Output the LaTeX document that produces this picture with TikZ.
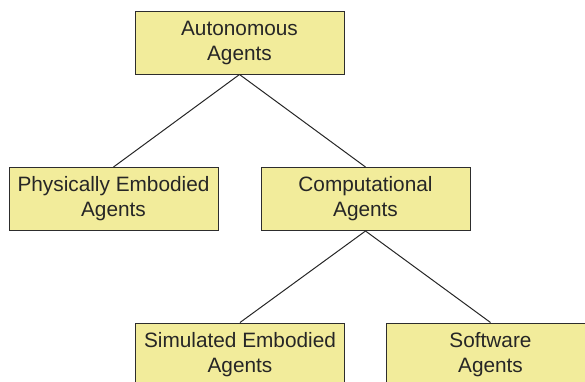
\documentclass[tikz,border=0pt]{standalone}
\usepackage{fontspec}
\setmainfont{Liberation Sans}
\definecolor{boxfill}{RGB}{242,236,155}
\definecolor{boxline}{RGB}{45,45,45}
\tikzset{
  agentbox/.style={draw=boxline, fill=boxfill, line width=1pt, minimum width=209pt, minimum height=63pt,
    align=center, text=black!85, font=\fontsize{20.8}{25}\selectfont, inner sep=0pt},
  link/.style={draw=black!85, line width=1pt}
}
\begin{document}
\begin{tikzpicture}[x=1pt,y=-1pt]
        \useasboundingbox (0,0) rectangle (585,381);
        % boxes
        \node[agentbox] (auto) at (239.5,42.5) {Autonomous\\Agents};
        \node[agentbox] (phys) at (113.5,199) {Physically Embodied\\Agents};
        \node[agentbox] (comp) at (365.5,199) {Computational\\Agents};
        \node[agentbox] (sim) at (240,354.5) {Simulated Embodied\\Agents};
        \node[agentbox] (soft) at (490.5,354.5) {Software\\Agents};
        % links
        \draw[link] (auto.south) -- (phys.north);
        \draw[link] (auto.south) -- (comp.north);
        \draw[link] (comp.south) -- (sim.north);
        \draw[link] (comp.south) -- (soft.north);
\end{tikzpicture}
\end{document}
